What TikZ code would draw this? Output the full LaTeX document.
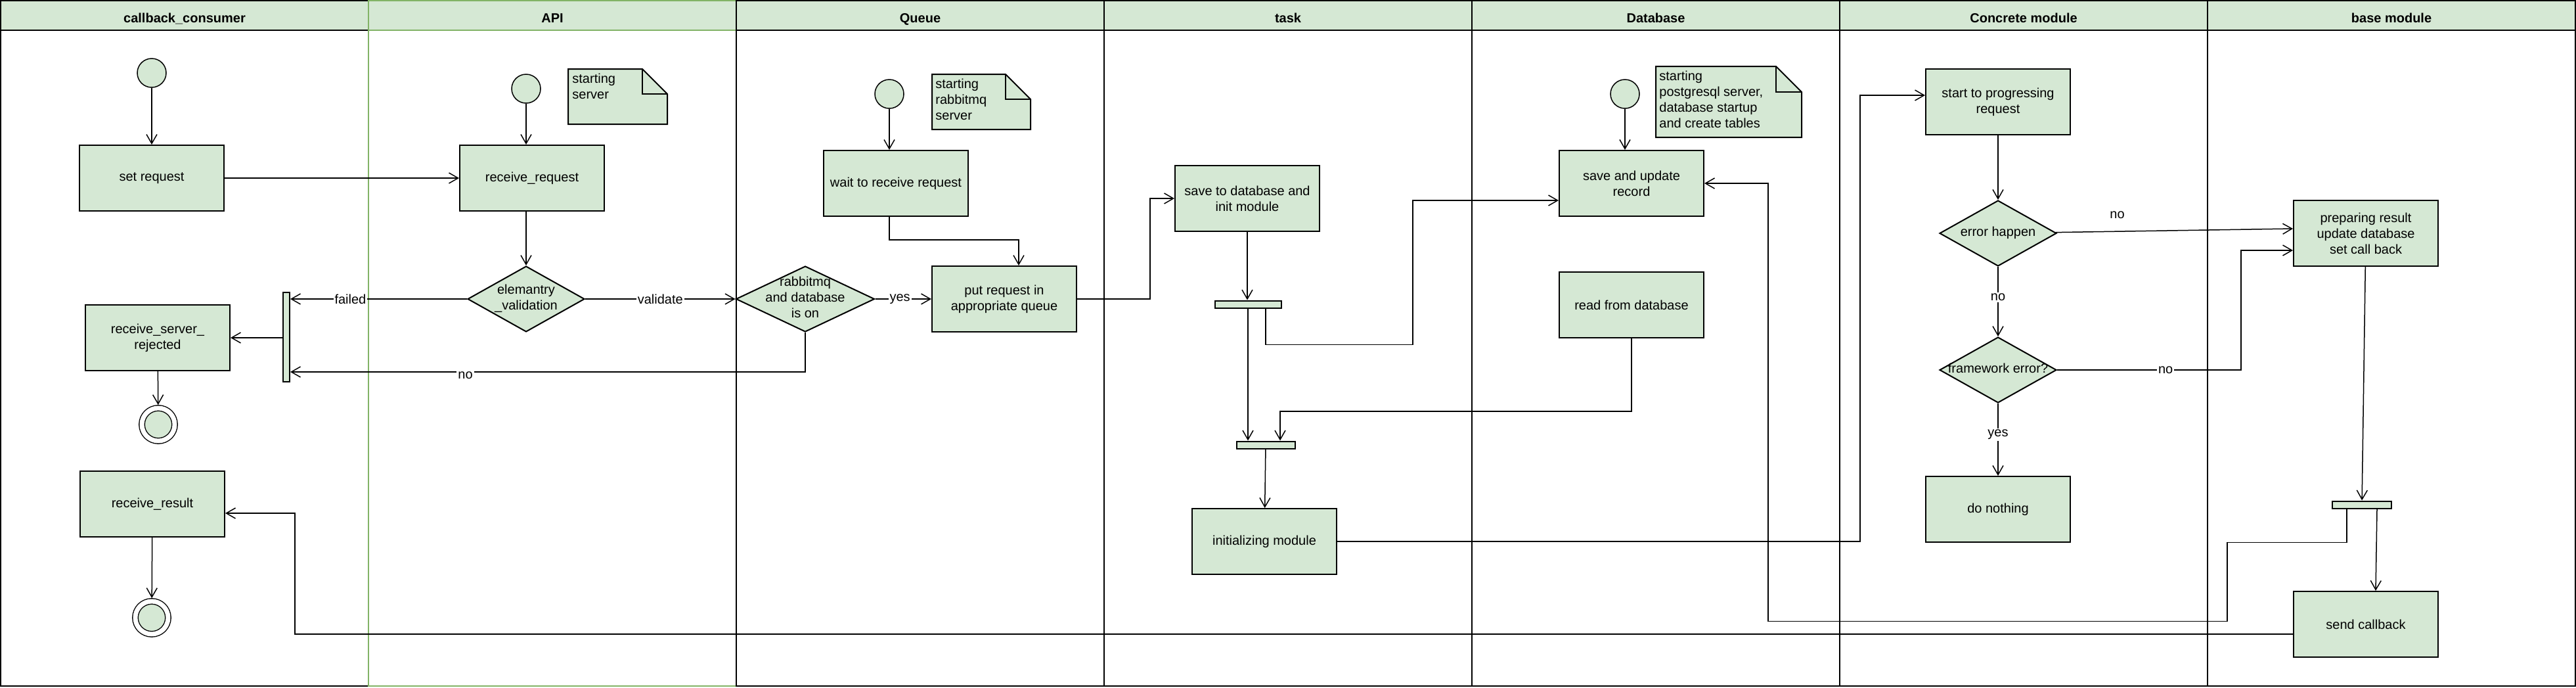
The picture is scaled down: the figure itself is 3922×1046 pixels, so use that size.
\documentclass[tikz,border=0pt]{standalone}
\usepackage{fontspec}
\setmainfont{Liberation Sans}
\usetikzlibrary{arrows.meta}
\usetikzlibrary{shapes.geometric}

\definecolor{boxgreen}{HTML}{D5E8D4}
\definecolor{apigreen}{HTML}{82B366}

% text of a decision, kept out of the diamond's size
\newcommand{\dtext}[1]{\makebox[0pt]{\begin{tabular}{@{}c@{}}#1\end{tabular}}}

\begin{document}
\begin{tikzpicture}
[x=0.5pt,y=-0.5pt,%
  >={Straight Barb[length=7pt,width=8pt]},%
  lane/.style={line width=1pt},%
  lanetitle/.style={anchor=base,font=\bfseries},%
  act/.style={rectangle,draw,fill=boxgreen,line width=1pt,minimum width=110pt,minimum height=50pt,align=center},%
  decision/.style={diamond,draw,fill=boxgreen,line width=1pt,inner sep=0pt,minimum width=89pt,minimum height=50pt},%
  forkbar/.style={rectangle,draw,fill=boxgreen,line width=1pt,inner sep=0pt},%
  startdot/.style={circle,draw,fill=boxgreen,line width=0.75pt,minimum size=22pt,inner sep=0pt},%
  enddot/.style={circle,draw,fill=boxgreen,double=white,double distance=3.5pt,line width=0.7pt,minimum size=25pt,inner sep=0pt,outer sep=2.4pt},%
  notebox/.style={draw,fill=boxgreen,line width=1pt},%
  notetext/.style={anchor=north west,inner sep=0pt,align=left},%
  conn/.style={->,line width=0.75pt},%
  lbl/.style={fill=white,inner sep=1pt}]
\fontsize{10}{12}\selectfont
\useasboundingbox (0,0) rectangle (3922,1046);

% swimlanes
\foreach \x/\lanename/\lanecol in {0/callback\_consumer/black,1/API/apigreen,2/Queue/black,%
  3/task/black,4/Database/black,5/Concrete module/black,6/base module/black} {
  \draw[lane,draw=\lanecol,fill=boxgreen] (560*\x+1,1) rectangle ++(560,45);
  \draw[lane,draw=\lanecol] (560*\x+1,46) rectangle ++(560,998);
  \node[lanetitle] (title\x) at (560*\x+281,34) {\lanename};
}

% callback_consumer
\node[startdot] (s1) at (231,111) {};
\node[act] (setreq) at (231,271) {set request};
\node[act] (rejected) at (240,514) {receive\_server\_\\rejected};
\node[enddot] (f1) at (241,646) {};
\node[act] (recres) at (232,767) {receive\_result};
\node[enddot] (f2) at (231,940) {};
\node[forkbar,minimum width=5pt,minimum height=68pt] (bar1) at (436,513) {};

% API
\node[startdot] (s2) at (801,135) {};
\node[act] (recvreq) at (810,271) {receive\_request};
\node[decision] (elem) at (801,455) {\dtext{elemantry\\\_validation}};
\filldraw[notebox] (865,105) -- (978,105) -- (1016,143) -- (1016,189) -- (865,189) -- cycle;
\draw[notebox,fill=none] (978,105) |- (1016,143);
\node[notetext] (noteapi) at (871,112) {starting\\server};

% Queue
\node[startdot] (s3) at (1354,143) {};
\node[act] (wait) at (1364,279) {wait to receive request};
\node[decision,minimum width=105.5pt] (dq) at (1226,455) {\dtext{rabbitmq\\and database\\is on}};
\node[act] (putreq) at (1529,455) {put request in\\appropriate queue};
\filldraw[notebox] (1419,113) -- (1531,113) -- (1569,151) -- (1569,197) -- (1419,197) -- cycle;
\draw[notebox,fill=none] (1531,113) |- (1569,151);
\node[notetext] (notequeue) at (1424,120) {starting\\rabbitmq\\server};

% task
\node[act] (savedb) at (1899,302) {save to database and\\init module};
\node[forkbar,minimum width=50.5pt,minimum height=5.5pt] (fork1) at (1900,463) {};
\node[forkbar,minimum width=44.5pt,minimum height=5.5pt] (fork2) at (1927,677) {};
\node[act] (initmod) at (1925,824) {initializing module};

% Database
\node[startdot] (s4) at (2474,143) {};
\node[act] (saveupd) at (2484,279) {save and update\\record};
\node[act] (readdb) at (2484,464) {read from database};
\filldraw[notebox] (2521,101) -- (2704,101) -- (2743,140) -- (2743,209) -- (2521,209) -- cycle;
\draw[notebox,fill=none] (2704,101) |- (2743,140);
\node[notetext] (notedb) at (2526,108) {starting\\postgresql server,\\database startup\\and create tables};

% Concrete module
\node[act] (startprog) at (3042,155) {start to progressing\\request};
\node[decision] (errh) at (3042,355) {\dtext{error happen}};
\node[decision] (fwerr) at (3042,563) {\dtext{framework error?}};
\node[act] (donothing) at (3042,775) {do nothing};

% base module
\node[act] (prep) at (3602,355) {preparing result\\update database\\set call back};
\node[forkbar,minimum width=45pt,minimum height=5.5pt] (fork3) at (3596,768) {};
\node[act] (sendcb) at (3602,950) {send callback};

% flows
\draw[conn] (s1) -- (setreq);
\draw[conn] (setreq) -- (recvreq);
\draw[conn] (s2) -- (s2 |- recvreq.north);
\draw[conn] (elem |- recvreq.south) -- (elem);
\draw[conn] (elem) -- node[lbl,pos=0.66] {failed} (bar1.east |- elem);
\draw[conn] (bar1.west |- rejected) -- (rejected);
\draw[conn] (rejected) -- (f1);
\draw[conn] (recres) -- (f2);
\draw[conn] (elem) -- node[lbl] {validate} (dq);
\draw[conn] (dq) -- node[lbl,pos=0.44] {yes} (putreq);
\draw[conn] (dq.south) |- node[lbl,pos=0.83,yshift=-2.5pt] {no} ([yshift=8pt]bar1.south east);
\draw[conn] (s3) -- (s3 |- wait.north);
\draw[conn] (s3 |- wait.south) -- ++(0,35) -| ([xshift=11pt]putreq.north);
\draw[conn] (putreq.east) -- ++(111,0) |- (savedb.west);
\draw[conn] (savedb) -- (savedb |- fork1.north);
\draw[conn] ([xshift=13.5pt]fork1.south) |- ++(224,55) |- ([yshift=-13pt]saveupd.west);
\draw[conn] (fork1.south) -- (fork1.south |- fork2.north);
\draw[conn] (readdb.south) -- ++(0,111) -| ([xshift=11pt]fork2.north);
\draw[conn] (fork2) -- (initmod);
\draw[conn] (initmod.east) -- ++(796,0) |- ([yshift=5pt]startprog.west);
\draw[conn] (s4) -- (s4 |- saveupd.north);
\draw[conn] (startprog) -- (errh);
\draw[conn] (errh) -- node[above=6pt,pos=0.26] {no} ([yshift=3.5pt]prep.west);
\draw[conn] (errh) -- node[lbl,pos=0.44] {no} (fwerr);
\draw[conn] (fwerr.east) -- node[lbl,pos=0.59] {no} ++(280,0) |- ([yshift=-13pt]prep.west);
\draw[conn] (fwerr) -- node[lbl,pos=0.43] {yes} (donothing);
\draw[conn] (prep) -- (fork3);
\draw[conn] ([xshift=11.5pt]fork3.south) -- ([xshift=7.5pt]sendcb.north);
\draw[conn] ([xshift=-11.5pt]fork3.south) -- ++(0,51) -- ++(-182,0) -- ++(0,120) -| ([xshift=48.5pt]saveupd.east) -- (saveupd.east);
\draw[conn] ([yshift=-7.5pt]sendcb.west) -- ++(-3042,0) |- ([yshift=-7pt]recres.east);
\end{tikzpicture}
\end{document}
